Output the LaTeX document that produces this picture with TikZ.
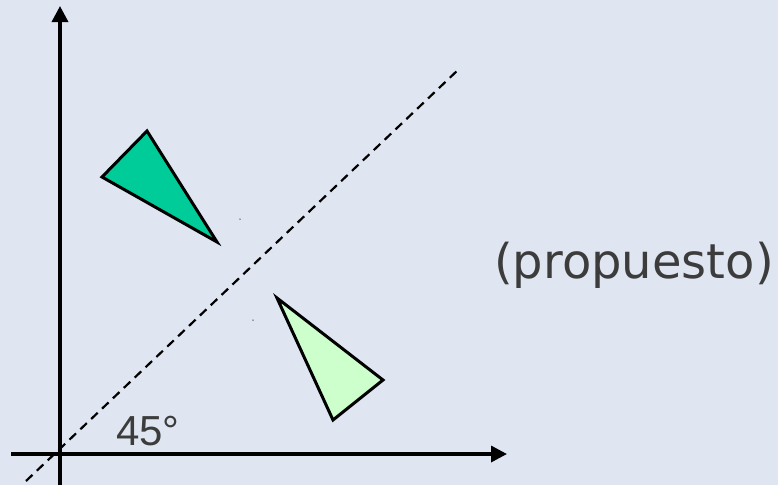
\documentclass[tikz,border=0pt]{standalone}
\usepackage{fontspec}
\usetikzlibrary{arrows.meta}
\newfontfamily\dejavu{DejaVu Sans}
\newfontfamily\arialish{Liberation Sans}
\definecolor{bgc}{HTML}{DFE6F1}
\definecolor{darkgreen}{HTML}{00CC99}
\definecolor{lightgreen}{HTML}{CCFFCC}
\definecolor{txtc}{HTML}{3C3C3C}
\tikzset{
  axis/.style={line width=3.4pt,-{Triangle[length=16pt,width=16pt]}},
  diag/.style={line width=2.2pt,dash pattern=on 9pt off 6pt},
  tri/.style={draw=black,line width=3pt,line join=miter},
  speck/.style={fill=black!70,inner sep=0pt,minimum size=1.5pt,circle},
  lbl/.style={text=txtc,inner sep=0pt,anchor=base west}
}
\begin{document}
\begin{tikzpicture}[x=1pt,y=-1pt]
\fill[bgc] (0,0) rectangle (778,485);
\useasboundingbox (0,0) rectangle (778,485);
% axes
\coordinate (yb) at (60,485);
\coordinate (yt) at (60,6);
\coordinate (xl) at (11,454);
\coordinate (xr) at (507,454);
\draw[axis] (yb) -- (yt);
\draw[axis] (xl) -- (xr);
% diagonal
\coordinate (d1) at (26,481);
\coordinate (d2) at (459,69);
\draw[diag] (d1) -- (d2);
% triangles
\coordinate (a1) at (147,131);
\coordinate (a2) at (102,177);
\coordinate (a3) at (217,242);
\filldraw[tri,fill=darkgreen] (a1) -- (a2) -- (a3) -- cycle;
\coordinate (b1) at (277,298);
\coordinate (b2) at (383,380);
\coordinate (b3) at (333,420);
\filldraw[tri,fill=lightgreen] (b1) -- (b2) -- (b3) -- cycle;
% specks
\node[speck] (s1) at (240,219) {};
\node[speck] (s2) at (253,320) {};
% labels
\node[lbl,font=\arialish\fontsize{42}{48}\selectfont] (ang) at (116,445) {45°};
\node[lbl,font=\dejavu\fontsize{48}{56}\selectfont] (prop) at (494,278) {(propuesto)};
\end{tikzpicture}
\end{document}
